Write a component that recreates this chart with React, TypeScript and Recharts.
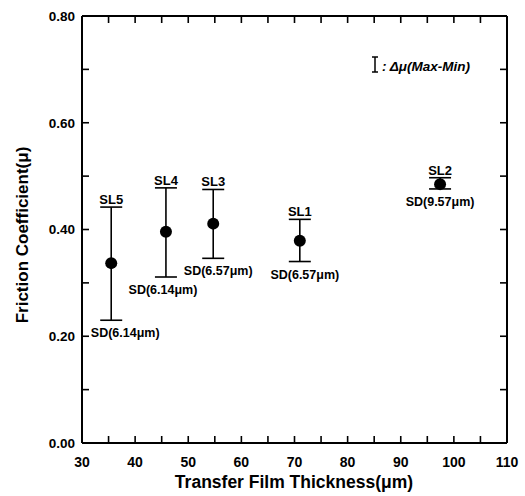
import React from 'react';
import { ScatterChart, Scatter, XAxis, YAxis, ErrorBar } from 'recharts';

// sample order as plotted left to right
const samples = ['SL5', 'SL4', 'SL3', 'SL1', 'SL2'];
const thickness = [35.5, 45.8, 54.7, 71, 97.4];
const meanMu = [0.337, 0.396, 0.411, 0.379, 0.485];
const maxMu = [0.442, 0.478, 0.475, 0.419, 0.497];
const minMu = [0.23, 0.311, 0.346, 0.34, 0.476];
const sdText = ['SD(6.14μm)', 'SD(6.14μm)', 'SD(6.57μm)', 'SD(6.57μm)', 'SD(9.57μm)'];

const xTicks = [30, 35, 40, 45, 50, 55, 60, 65, 70, 75, 80, 85, 90, 95, 100, 105, 110];
const xLabels = [30, 40, 50, 60, 70, 80, 90, 100, 110];
const yTicks = [0, 0.1, 0.2, 0.3, 0.4, 0.5, 0.6, 0.7, 0.8];
const yLabels = [0, 0.2, 0.4, 0.6, 0.8];

const FONT = '"Liberation Sans", Arial, Helvetica, sans-serif';
const AXIS_LINE = { stroke: '#000', strokeWidth: 2 };
const TICK_LINE = { stroke: '#000', strokeWidth: 1.6 };
const TICK_TEXT = { fontFamily: FONT, fontWeight: 'bold', fontSize: 14, fill: '#000' };

const points = samples.map((name, i) => ({
  name,
  x: thickness[i],
  y: meanMu[i],
  range: [meanMu[i] - minMu[i], maxMu[i] - meanMu[i]],
}));
const tops = samples.map((name, i) => ({ name, x: thickness[i], y: maxMu[i] }));
const bottoms = samples.map((name, i) => ({ name, x: thickness[i], y: minMu[i], sd: sdText[i] }));

// nudges so the SD captions clear the frame / neighbours
const sdShift: Record<string, number> = { SL5: 14, SL4: -3, SL3: 5, SL1: 5, SL2: 0 };

const isLabelled = (list: number[], v: number) => list.some((l) => Math.abs(l - v) < 1e-6);
const xFmt = (v: number) => (isLabelled(xLabels, v) ? String(v) : '');
const yFmt = (v: number) => (isLabelled(yLabels, v) ? v.toFixed(2) : '');

// mirrored axes only carry inward tick marks, no text
const MarkOnly = (props: any) => {
  const { x, y, orientation } = props;
  if (orientation === 'top') return <line x1={x} y1={y} x2={x} y2={y + 7} stroke="#000" strokeWidth={1.6} />;
  return <line x1={x} y1={y} x2={x - 7} y2={y} stroke="#000" strokeWidth={1.6} />;
};

const Dot = (props: any) => <circle cx={props.cx} cy={props.cy} r={6} fill="#000" />;

const NameLabel = (props: any) => (
  <text x={props.cx} y={props.cy - 3} textAnchor="middle" fontFamily={FONT} fontWeight="bold" fontSize={13} fill="#000">
    {props.payload.name}
  </text>
);

const SdLabel = (props: any) => (
  <text
    x={props.cx + (sdShift[props.payload.name] ?? 0)}
    y={props.cy + 17}
    textAnchor="middle"
    fontFamily={FONT}
    fontWeight="bold"
    fontSize={12.5}
    fill="#000"
  >
    {props.payload.sd}
  </text>
);

const App: React.FC = () => {
  return (
    <div style={{ position: 'absolute', left: 0, top: 0, width: 525, height: 496, background: '#fff' }}>
      <ScatterChart width={525} height={496} margin={{ top: 6, right: 8, bottom: 3, left: 0 }}>
        {/* negative tickSize turns the tick marks inward */}
        <XAxis
          type="number"
          dataKey="x"
          domain={[30, 110]}
          ticks={xTicks}
          interval={0}
          tickSize={-7}
          tickMargin={21}
          height={50}
          axisLine={AXIS_LINE}
          tickLine={TICK_LINE}
          tick={TICK_TEXT}
          tickFormatter={xFmt}
        />
        <XAxis
          xAxisId="top"
          orientation="top"
          type="number"
          dataKey="x"
          domain={[30, 110]}
          ticks={xTicks}
          interval={0}
          tickSize={0}
          tickMargin={0}
          height={10}
          axisLine={AXIS_LINE}
          tickLine={false}
          tick={MarkOnly}
        />
        <YAxis
          type="number"
          dataKey="y"
          domain={[0, 0.8]}
          ticks={yTicks}
          interval={0}
          tickSize={-7}
          tickMargin={14}
          width={82}
          axisLine={AXIS_LINE}
          tickLine={TICK_LINE}
          tick={{ ...TICK_TEXT, fontSize: 13.5 }}
          tickFormatter={yFmt}
        />
        <YAxis
          yAxisId="right"
          orientation="right"
          type="number"
          dataKey="y"
          domain={[0, 0.8]}
          ticks={yTicks}
          interval={0}
          tickSize={0}
          tickMargin={0}
          width={10}
          axisLine={AXIS_LINE}
          tickLine={false}
          tick={MarkOnly}
        />
        <Scatter data={points} shape={Dot} isAnimationActive={false}>
          <ErrorBar dataKey="range" direction="y" width={11} stroke="#000" strokeWidth={1.6} />
        </Scatter>
        {/* caption series sit on the mirrored axes (same domains) */}
        <Scatter data={tops} xAxisId="top" yAxisId="right" shape={NameLabel} isAnimationActive={false} />
        <Scatter data={bottoms} xAxisId="top" yAxisId="right" shape={SdLabel} isAnimationActive={false} />
      </ScatterChart>
      <svg width={525} height={496} style={{ position: 'absolute', left: 0, top: 0, pointerEvents: 'none' }}>
        <text x={294} y={488} textAnchor="middle" fontFamily={FONT} fontWeight="bold" fontSize={17.5} fill="#000">
          Transfer Film Thickness(μm)
        </text>
        <text
          transform="translate(28,235) rotate(-90)"
          textAnchor="middle"
          fontFamily={FONT}
          fontWeight="bold"
          fontSize={17}
          fill="#000"
        >
          Friction Coefficient(μ)
        </text>
        <g stroke="#000" strokeWidth={1.5}>
          <line x1={375} y1={57} x2={375} y2={72} />
          <line x1={372} y1={57} x2={378} y2={57} />
          <line x1={372} y1={72} x2={378} y2={72} />
        </g>
        <text x={382} y={71} fontFamily={FONT} fontWeight="bold" fontStyle="italic" fontSize={13.5} fill="#000">
          : Δμ(Max-Min)
        </text>
      </svg>
    </div>
  );
};

export default App;
